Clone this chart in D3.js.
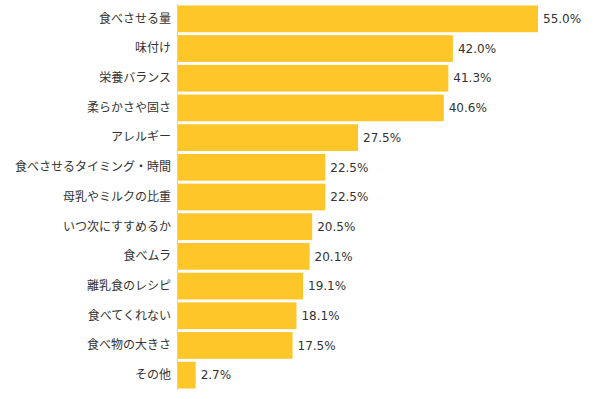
<!DOCTYPE html>
<meta charset="utf-8">
<style>
  body { margin: 0; background: #fff; }
  text { font-family: "Noto Sans CJK JP", "Noto Sans", sans-serif; }
</style>
<script src="https://cdn.jsdelivr.net/npm/d3@7"></script>
<div id="my_dataviz"></div>
<script>

// categories and values (percent)
var categories = ["食べさせる量", "味付け", "栄養バランス", "柔らかさや固さ", "アレルギー",
  "食べさせるタイミング・時間", "母乳やミルクの比重", "いつ次にすすめるか", "食べムラ",
  "離乳食のレシピ", "食べてくれない", "食べ物の大きさ", "その他"];
var values = [55.0, 42.0, 41.3, 40.6, 27.5, 22.5, 22.5, 20.5, 20.1, 19.1, 18.1, 17.5, 2.7];

var data = categories.map(function(c, i) { return {name: c, value: values[i]}; });

var margin = {top: 4, right: 61, bottom: 9, left: 177},
    width = 598 - margin.left - margin.right,
    height = 399 - margin.top - margin.bottom;

var svg = d3.select("#my_dataviz")
  .append("svg")
    .attr("width", 598)
    .attr("height", 399)
  .append("g")
    .attr("transform", "translate(" + margin.left + "," + margin.top + ")");

var x = d3.scaleLinear()
  .domain([0, 55])
  .range([0, width]);

var y = d3.scaleBand()
  .domain(categories)
  .range([0, height])
  .paddingInner(0.1)
  .paddingOuter(0.05);

// bars
svg.selectAll("rect")
  .data(data)
  .enter()
  .append("rect")
    .attr("x", x(0) + 1)
    .attr("y", function(d) { return y(d.name); })
    .attr("width", function(d) { return x(d.value); })
    .attr("height", y.bandwidth())
    .attr("fill", "#ffc629");

// Y axis (labels only + thin line)
var yAxis = svg.append("g")
  .call(d3.axisLeft(y).tickSize(0).tickPadding(6));
yAxis.select(".domain").attr("stroke", "#ccd3dd").attr("d", "M0.5,0V" + height);
yAxis.selectAll("text")
  .attr("fill", "#333")
  .style("font-size", "12px");

// value labels
svg.selectAll(".val")
  .data(data)
  .enter()
  .append("text")
    .attr("class", "val")
    .attr("x", function(d) { return x(d.value) + 6; })
    .attr("y", function(d) { return y(d.name) + y.bandwidth() / 2; })
    .attr("dy", "0.35em")
    .attr("fill", "#333")
    .style("font-family", "'DejaVu Sans', sans-serif")
    .style("font-size", "12px")
    .text(function(d) { return d.value.toFixed(1) + "%"; });

</script>
